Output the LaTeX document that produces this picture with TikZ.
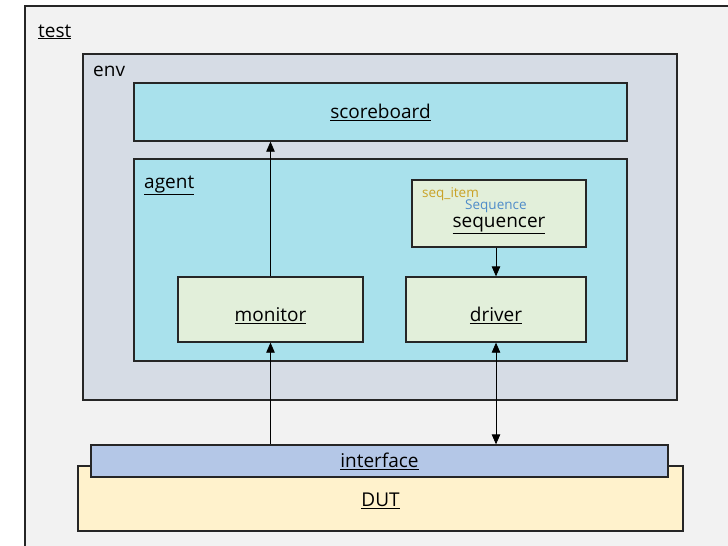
\documentclass[tikz,border=0pt]{standalone}
\usepackage{fontspec}
\setmainfont{Open Sans}
\usetikzlibrary{arrows.meta}

\definecolor{testbg}{HTML}{F2F2F2}
\definecolor{envbg}{HTML}{D6DCE5}
\definecolor{agentbg}{HTML}{A9E1EC}
\definecolor{compbg}{HTML}{E2EFDA}
\definecolor{ifbg}{HTML}{B4C7E7}
\definecolor{dutbg}{HTML}{FFF2CC}
\definecolor{itemcol}{HTML}{C9A227}
\definecolor{seqcol}{HTML}{4F8CC9}

\tikzset{
  blk/.style={rectangle,draw=black!85,line width=1.3pt,inner sep=0pt,
    font=\fontsize{19}{22}\selectfont},
  lowtext/.style={text height=#1},
  lowtext/.default=27pt,
  tag/.style={anchor=base west,inner sep=0pt,font=\fontsize{19}{22}\selectfont},
  small/.style={anchor=base west,inner sep=0pt,font=\fontsize{13.5}{16}\selectfont},
  arr/.style={line width=0.8pt,-{Triangle[length=10pt,width=8.5pt]}},
  arrs/.style={line width=0.8pt,{Triangle[length=10pt,width=8.5pt]}-{Triangle[length=10pt,width=8.5pt]}}
}

\begin{document}
\begin{tikzpicture}[x=1pt,y=-1pt]
  \clip (0,0) rectangle (728,546);
  \fill[white] (0,0) rectangle (728,546);

  % test
  \draw[blk,fill=testbg] (25,6) rectangle (760,580);
  \node[tag] (testlbl) at (38,37) {\underline{test}};

  % env
  \node[blk,fill=envbg,minimum width=594pt,minimum height=346pt] (env) at (380,227) {};
  \node[tag] (envlbl) at (93,76) {env};
  \node[blk,fill=agentbg,minimum width=493pt,minimum height=58pt] (scoreboard) at (380.5,112) {\underline{scoreboard}};

  % agent
  \node[blk,fill=agentbg,minimum width=493pt,minimum height=202pt] (agent) at (380.5,260) {};
  \node[tag] (agentlbl) at (144,188) {\underline{agent}};
  \node[blk,lowtext=34pt,fill=compbg,minimum width=174pt,minimum height=67pt] (sequencer) at (499,213.5) {\underline{sequencer}};
  \node[small,text=itemcol] (itemlbl) at (422,197) {seq\_item};
  \node[small,text=seqcol] (seqlbl) at (465,209.5) {Sequence};
  \node[blk,lowtext,fill=compbg,minimum width=185pt,minimum height=65pt] (monitor) at (270.5,309.5) {\underline{monitor}};
  \node[blk,lowtext,fill=compbg,minimum width=180pt,minimum height=65pt] (driver) at (496,309.5) {\underline{driver}};

  % DUT side
  \node[blk,fill=dutbg,minimum width=605pt,minimum height=65pt,text height=19pt] (dut) at (380.5,498.5) {\underline{DUT}};
  \node[blk,fill=ifbg,minimum width=577pt,minimum height=32pt] (interface) at (379.5,461) {\underline{interface}};

  % connections
  \draw[arr] (monitor.north) -- (monitor.north |- scoreboard.south);
  \draw[arr] (driver.north |- sequencer.south) -- (driver.north);
  \draw[arr] (monitor.south |- interface.north) -- (monitor.south);
  \draw[arrs] (driver.south) -- (driver.south |- interface.north);
\end{tikzpicture}
\end{document}
